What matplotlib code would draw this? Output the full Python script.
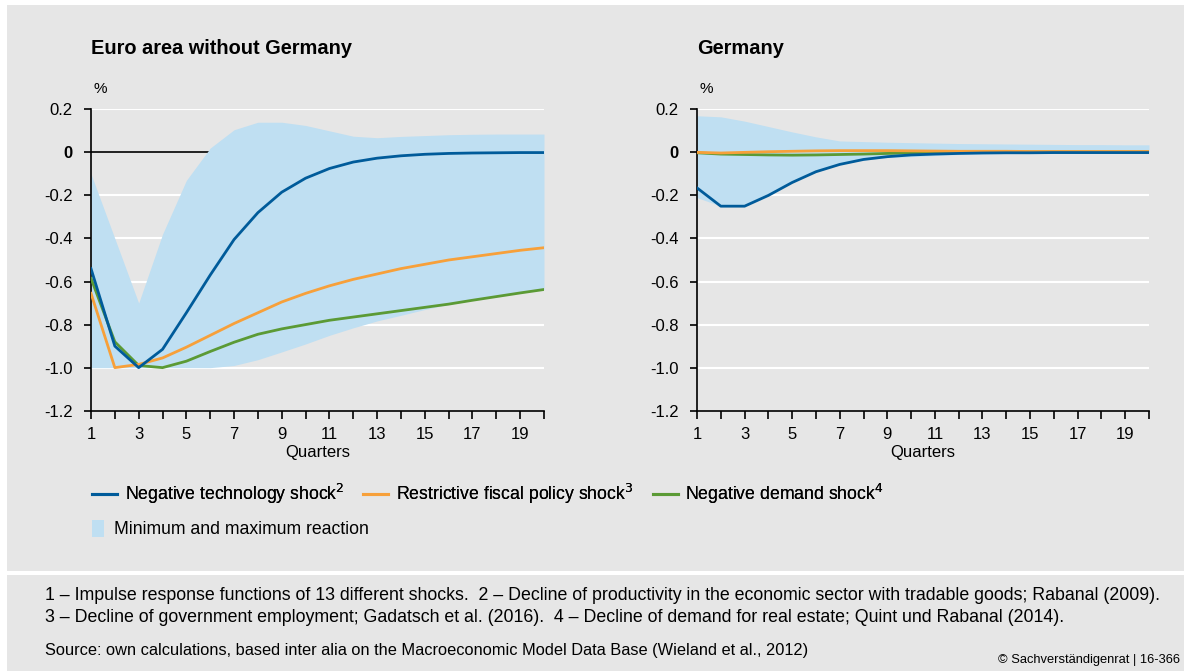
import matplotlib
matplotlib.use('Agg')
import matplotlib.pyplot as plt
from matplotlib.patches import Rectangle, Patch
from matplotlib.lines import Line2D

plt.rcParams['font.family'] = ['Liberation Sans', 'DejaVu Sans']

quarters = list(range(1, 21))

# Euro area without Germany
ea_tech = [-0.54, -0.90, -1.00, -0.915, -0.745, -0.57, -0.405, -0.28, -0.185, -0.12,
           -0.075, -0.045, -0.027, -0.016, -0.009, -0.005, -0.003, -0.002, -0.001, -0.001]
ea_fiscal = [-0.655, -1.00, -0.985, -0.955, -0.905, -0.85, -0.795, -0.745, -0.695, -0.655,
             -0.62, -0.59, -0.565, -0.54, -0.52, -0.50, -0.485, -0.47, -0.455, -0.443]
ea_demand = [-0.585, -0.88, -0.99, -1.00, -0.97, -0.925, -0.882, -0.845, -0.82, -0.80,
             -0.78, -0.765, -0.75, -0.735, -0.72, -0.705, -0.687, -0.67, -0.653, -0.637]
ea_max = [-0.10, -0.40, -0.70, -0.38, -0.13, 0.02, 0.105, 0.14, 0.14, 0.125,
          0.10, 0.075, 0.068, 0.074, 0.078, 0.082, 0.084, 0.085, 0.085, 0.085]
ea_min = [-1.0, -1.0, -1.0, -1.0, -1.0, -1.0, -0.99, -0.963, -0.927, -0.89,
          -0.85, -0.815, -0.783, -0.757, -0.73, -0.706, -0.687, -0.67, -0.653, -0.637]

# Germany
de_tech = [-0.165, -0.25, -0.25, -0.20, -0.14, -0.09, -0.056, -0.033, -0.02, -0.012,
           -0.008, -0.005, -0.003, -0.002, -0.002, -0.001, -0.001, -0.001, -0.001, -0.001]
de_fiscal = [0.0, -0.003, 0.0, 0.003, 0.005, 0.007, 0.008, 0.008, 0.008, 0.007,
             0.006, 0.005, 0.005, 0.005, 0.004, 0.004, 0.004, 0.004, 0.004, 0.004]
de_demand = [-0.002, -0.008, -0.01, -0.012, -0.013, -0.012, -0.01, -0.008, -0.005, -0.003,
             -0.001, 0.0, 0.001, 0.001, 0.002, 0.002, 0.002, 0.002, 0.002, 0.002]
de_max = [0.17, 0.165, 0.145, 0.12, 0.095, 0.072, 0.053, 0.05, 0.047, 0.045,
          0.043, 0.041, 0.04, 0.039, 0.038, 0.037, 0.036, 0.036, 0.035, 0.035]
de_min = [-0.21, -0.25, -0.25, -0.20, -0.14, -0.09, -0.056, -0.035, -0.024, -0.02,
          -0.015, -0.01, -0.007, -0.005, -0.004, -0.003, -0.002, -0.002, -0.002, -0.002]

yticks = [0.2, 0, -0.2, -0.4, -0.6, -0.8, -1.0, -1.2]
ylabels = ['0.2', '0', '-0.2', '-0.4', '-0.6', '-0.8', '-1.0', '-1.2']

BG = '#e6e6e6'
BLUE = '#005b9a'
ORANGE = '#f7a03a'
GREEN = '#5b9a35'
BAND = '#bfdff2'

fig = plt.figure(figsize=(11.84, 6.71), dpi=100)
fig.patch.set_facecolor('white')
W, H = 1184, 671
fig.patches.append(Rectangle((7 / W, 1 - 571 / H), 1, (571 - 5) / H, transform=fig.transFigure,
                             facecolor=BG, edgecolor='none', zorder=-10))
fig.patches.append(Rectangle((7 / W, 0), 1, (671 - 575) / H, transform=fig.transFigure,
                             facecolor=BG, edgecolor='none', zorder=-10))

ax1 = fig.add_axes([91 / W, 1 - 410.7 / H, 453 / W, 301.4 / H])
ax2 = fig.add_axes([697 / W, 1 - 410.7 / H, 452 / W, 301.4 / H])


def draw_panel(ax, title, tech, fiscal, demand, lo, hi):
    ax.set_facecolor(BG)
    for y in yticks[:-1]:
        if y == 0:
            ax.axhline(0, color='black', lw=1.2, zorder=1)
        else:
            ax.axhline(y, color='white', lw=1.5, zorder=1)
    ax.fill_between(quarters, lo, hi, color=BAND, lw=0, zorder=2)
    ax.plot(quarters, demand, color=GREEN, lw=2.0, zorder=3)
    ax.plot(quarters, fiscal, color=ORANGE, lw=2.0, zorder=4)
    ax.plot(quarters, tech, color=BLUE, lw=2.0, zorder=5)
    ax.set_xlim(1, 20)
    ax.set_ylim(-1.2, 0.2)
    ax.set_xticks(quarters)
    ax.set_xticklabels([str(q) if q % 2 == 1 else '' for q in quarters], fontsize=12)
    ax.set_yticks(yticks)
    ax.set_yticklabels(ylabels, fontsize=12)
    for lab in ax.get_yticklabels():
        if lab.get_text() == '0':
            lab.set_fontweight('bold')
    ax.tick_params(axis='x', length=6, width=1.2, pad=6)
    ax.tick_params(axis='y', length=5, width=1.2, pad=8)
    for s in ['top', 'right']:
        ax.spines[s].set_visible(False)
    for s in ['left', 'bottom']:
        ax.spines[s].set_linewidth(1.2)
    ax.set_xlabel('Quarters', fontsize=12, labelpad=2)
    ax.text(0.005, 1.045, '%', transform=ax.transAxes, fontsize=11, ha='left', va='bottom')
    ax.text(0.0, 1.17, title, transform=ax.transAxes, fontsize=14.4, fontweight='bold',
            ha='left', va='bottom')


draw_panel(ax1, 'Euro area without Germany', ea_tech, ea_fiscal, ea_demand, ea_min, ea_max)
draw_panel(ax2, 'Germany', de_tech, de_fiscal, de_demand, de_min, de_max)

handles = [Line2D([], [], color=BLUE, lw=2.2),
           Line2D([], [], color=ORANGE, lw=2.2),
           Line2D([], [], color=GREEN, lw=2.2)]
labels = ['Negative technology shock$^2$', 'Restrictive fiscal policy shock$^3$',
          'Negative demand shock$^4$']
leg1 = fig.legend(handles, labels, ncol=3, loc='center left', bbox_to_anchor=(92 / W, 1 - 494 / H),
                  frameon=False, fontsize=12.7, handlelength=1.4, handletextpad=0.45,
                  columnspacing=1.1, borderpad=0, borderaxespad=0)
fig.add_artist(leg1)
fig.legend([Patch(facecolor=BAND, edgecolor='none')], ['Minimum and maximum reaction'],
           loc='center left', bbox_to_anchor=(92 / W, 1 - 529 / H), frameon=False, fontsize=12.7,
           handlelength=0.7, handleheight=1.1, handletextpad=0.55, borderpad=0, borderaxespad=0)

fn_size = 12.8
fig.text(45 / W, 1 - 596 / H, '1 \u2013 Impulse response functions of 13 different shocks.  2 \u2013 Decline of productivity '
         'in the economic sector with tradable goods; Rabanal (2009).', fontsize=fn_size, va='center')
fig.text(45 / W, 1 - 617 / H, '3 \u2013 Decline of government employment; Gadatsch et al. (2016).  4 \u2013 Decline of '
         'demand for real estate; Quint und Rabanal (2014).', fontsize=fn_size, va='center')
fig.text(45 / W, 1 - 651 / H, 'Source: own calculations, based inter alia on the Macroeconomic Model Data Base '
         '(Wieland et al., 2012)', fontsize=11.8, va='center')
fig.text(1180 / W, 1 - 660 / H, '\u00a9 Sachverst\u00e4ndigenrat | 16-366', fontsize=9.3, ha='right', va='center')

fig.savefig('out.png', dpi=100)
